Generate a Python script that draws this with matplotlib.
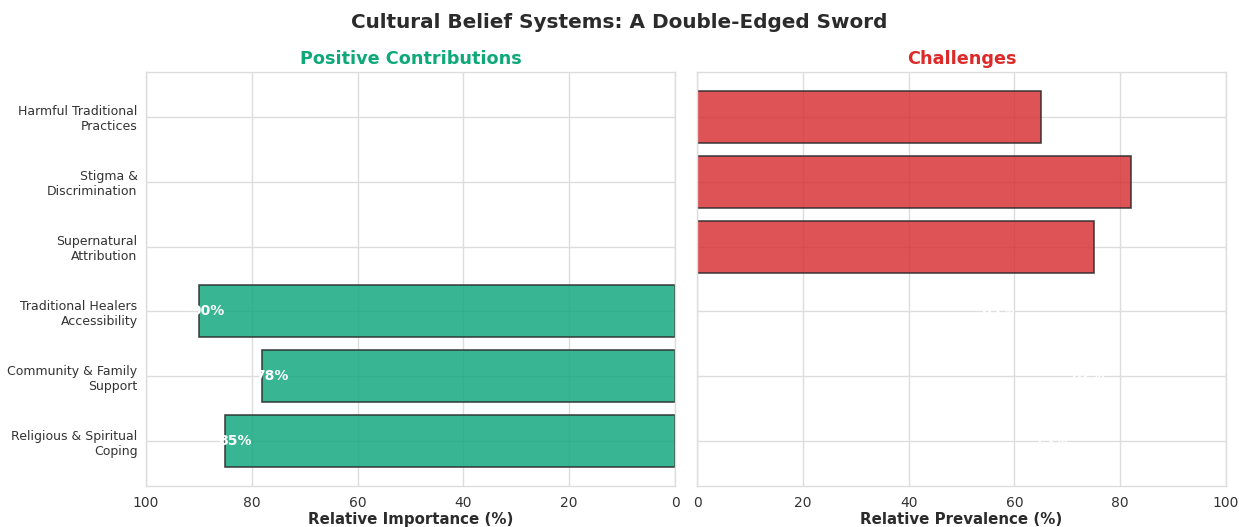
import matplotlib
matplotlib.use("Agg")
import matplotlib.pyplot as plt
import seaborn as sns

sns.set_style("whitegrid")
plt.rcParams['font.family'] = ['DejaVu Sans']

categories = [
    "Religious & Spiritual\nCoping",
    "Community & Family\nSupport",
    "Traditional Healers\nAccessibility",
    "Supernatural\nAttribution",
    "Stigma &\nDiscrimination",
    "Harmful Traditional\nPractices",
]
positive_labels = categories[:3]
positive_values = [85, 78, 90]
challenge_labels = categories[3:]
challenge_values = [75, 82, 65]

green = "#15aa81"
red = "#d73538"
edge = "#2b2b2b"

fig = plt.figure(figsize=(12.39, 5.27), dpi=100)
ax_l = fig.add_axes([0.1178, 0.0778, 0.427, 0.7856])
ax_r = fig.add_axes([0.5626, 0.0778, 0.427, 0.7856], sharey=ax_l)

pos_y = [categories.index(c) for c in positive_labels]
chal_y = [categories.index(c) for c in challenge_labels]

ax_l.barh(pos_y, positive_values, height=0.8, color=green, alpha=0.85,
          edgecolor=edge, linewidth=1.2)
ax_r.barh(chal_y, challenge_values, height=0.8, color=red, alpha=0.85,
          edgecolor=edge, linewidth=1.2)

# value labels
for i, v in enumerate(positive_values):
    ax_l.text(v + 1.4, i, f"{v}%", ha="left", va="center", color="white",
              fontsize=10, fontweight="bold")
for i, v in enumerate(challenge_values):
    ax_r.text(v - 5, i, f"{v}%", ha="right", va="center", color="white",
              fontsize=10, fontweight="bold")

ax_l.set_xlim(100, 0)
ax_r.set_xlim(0, 100)
ax_l.set_ylim(-0.69, 5.69)

ax_l.set_yticks(range(len(categories)))
ax_l.set_yticklabels(categories, fontsize=9, color="#333333")
plt.setp(ax_r.get_yticklabels(), visible=False)

for ax in (ax_l, ax_r):
    ax.tick_params(axis="x", labelsize=10, colors="#333333")
    ax.tick_params(axis="y", length=0, pad=6)
    for s in ax.spines.values():
        s.set_color("#dddddd")
        s.set_linewidth(1.0)
    ax.grid(True, color="#dddddd", linewidth=1.0)
    ax.set_axisbelow(True)

ax_l.set_xlabel("Relative Importance (%)", fontsize=10.8, fontweight="bold",
                color="#2b2b2b", labelpad=2)
ax_r.set_xlabel("Relative Prevalence (%)", fontsize=10.8, fontweight="bold",
                color="#2b2b2b", labelpad=2)

ax_l.set_title("Positive Contributions", fontsize=12.7, fontweight="bold",
               color="#0fa878", pad=6)
ax_r.set_title("Challenges", fontsize=12.7, fontweight="bold",
               color="#dc2a2a", pad=6)

fig.suptitle("Cultural Belief Systems: A Double-Edged Sword", fontsize=14.4,
             fontweight="bold", color="#2b2b2b", y=0.975)

fig.savefig("out.png", dpi=100)
